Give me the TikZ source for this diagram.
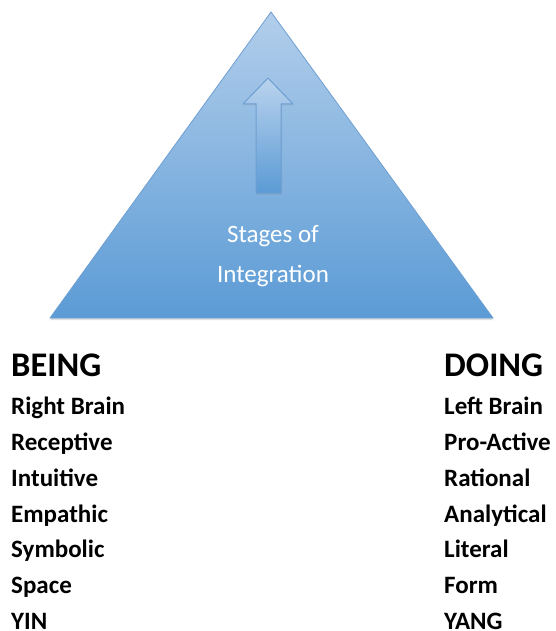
\documentclass[tikz,border=0pt]{standalone}
\usepackage{fontspec}
\setmainfont{Carlito}
\usepackage{tikz}
\usetikzlibrary{positioning, shadows}

\definecolor{pyrtop}{HTML}{B2CEEB}
\definecolor{pyrbot}{HTML}{5B9BD5}
\definecolor{pyredge}{HTML}{6E9FD2}

\begin{document}
\begin{tikzpicture}[
                x=1pt, y=-1pt,
                node distance=13.4pt,
                head/.style={anchor=base west, inner sep=0, font=\fontsize{34.5}{34.5}\selectfont\bfseries},
                item/.style={inner sep=0, text height=18pt, text depth=4pt, font=\fontsize{25}{25}\selectfont\bfseries},
                pyr/.style={draw=pyredge, line width=0.8pt, top color=pyrtop, bottom color=pyrbot},
                arrow/.style={draw=pyredge, line width=1pt, top color=pyrtop!90!white, bottom color=pyrbot}]
            \useasboundingbox (0,0) rectangle (555,631);

            % Pyramide
            \shade[pyr, drop shadow={opacity=0.25, shadow xshift=0pt, shadow yshift=-2pt}]
                (271,12) -- (493,318) -- (50,318) -- cycle;
            \shade[arrow, drop shadow={opacity=0.2, shadow xshift=1pt, shadow yshift=-1.5pt}]
                (268,78) -- (293,104) -- (281,104) -- (281,193) -- (256,193) -- (256,104) -- (243,104) -- cycle;
            \node[align=center, text=white, inner sep=0, font=\fontsize{25}{40}\selectfont] (stages) at (273,256) {Stages of\\Integration};

            % Colonne gauche
            \node[head] (being) at (11,376) {BEING};
            \node[item, below=20pt of being.south west, anchor=north west] (rbrain) {Right Brain};
            \node[item, below=of rbrain.south west, anchor=north west] (recep) {Receptive};
            \node[item, below=of recep.south west, anchor=north west] (intu) {Intuitive};
            \node[item, below=of intu.south west, anchor=north west] (empa) {Empathic};
            \node[item, below=of empa.south west, anchor=north west] (symb) {Symbolic};
            \node[item, below=of symb.south west, anchor=north west] (space) {Space};
            \node[item, below=of space.south west, anchor=north west] (yin) {YIN};

            % Colonne droite
            \node[head] (doing) at (444,376) {DOING};
            \node[item, below=20pt of doing.south west, anchor=north west] (lbrain) {Left Brain};
            \node[item, below=of lbrain.south west, anchor=north west] (proac) {Pro-Active};
            \node[item, below=of proac.south west, anchor=north west] (ratio) {Rational};
            \node[item, below=of ratio.south west, anchor=north west] (analy) {Analytical};
            \node[item, below=of analy.south west, anchor=north west] (liter) {Literal};
            \node[item, below=of liter.south west, anchor=north west] (form) {Form};
            \node[item, below=of form.south west, anchor=north west] (yang) {YANG};

        \end{tikzpicture}
\end{document}
